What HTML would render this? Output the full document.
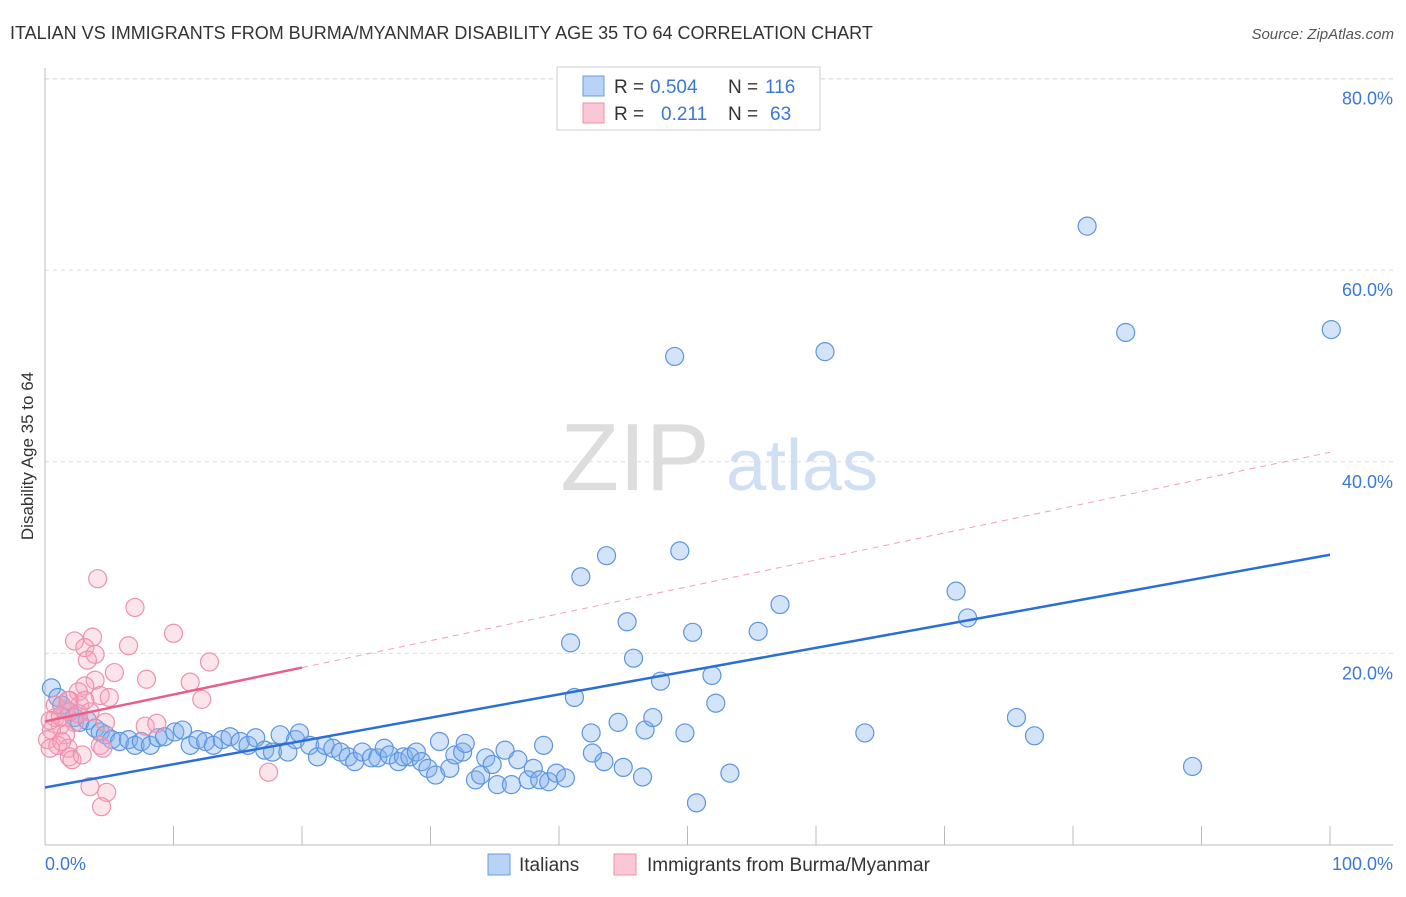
<!DOCTYPE html>
<html><head><meta charset="utf-8"><style>
body{margin:0;background:#fff;font-family:"Liberation Sans",sans-serif;}
svg text{font-family:"Liberation Sans",sans-serif;}
</style></head><body>
<svg id="chart" width="1406" height="892" viewBox="0 0 1406 892" xmlns="http://www.w3.org/2000/svg">
<text x="10" y="39" font-size="18" fill="#333">ITALIAN VS IMMIGRANTS FROM BURMA/MYANMAR DISABILITY AGE 35 TO 64 CORRELATION CHART</text>
<text x="1394" y="39" font-size="15" fill="#555" text-anchor="end" font-style="italic">Source: ZipAtlas.com</text>
<text transform="translate(33,456) rotate(-90)" font-size="17" fill="#333" text-anchor="middle">Disability Age 35 to 64</text>
<g>
<text x="635" y="490" font-size="96" fill="#ddd" text-anchor="middle" font-family="Liberation Serif,serif">ZIP</text>
<text x="802" y="490" font-size="72" fill="#cfe0f4" text-anchor="middle">atlas</text>
</g>
<g id="grid"></g>
<g id="axes"></g>
<g id="marks"></g>
<g id="lines"></g>
<g>
<rect x="557" y="67" width="263" height="63" fill="#fff" stroke="#ccc"/>
<rect x="583" y="76" width="21" height="20" fill="#b8d3f5" stroke="#6a9be0"/>
<rect x="583" y="103" width="21" height="20" fill="#fac7d6" stroke="#ee8fab"/>
<text x="614" y="93" font-size="19" fill="#333">R =</text>
<text x="650" y="93" font-size="19" fill="#3b78d8">0.504</text>
<text x="728" y="93" font-size="19" fill="#333">N =</text>
<text x="765" y="93" font-size="19" fill="#3b78d8">116</text>
<text x="614" y="120" font-size="19" fill="#333">R =</text>
<text x="661" y="120" font-size="19" fill="#3b78d8">0.211</text>
<text x="728" y="120" font-size="19" fill="#333">N =</text>
<text x="770" y="120" font-size="19" fill="#3b78d8">63</text>
</g>
<g>
<rect x="488" y="854" width="22" height="21" fill="#b8d3f5" stroke="#6a9be0"/>
<text x="519" y="871" font-size="19" fill="#333">Italians</text>
<rect x="614" y="854" width="22" height="21" fill="#fac7d6" stroke="#ee8fab"/>
<text x="647" y="871" font-size="19" fill="#333">Immigrants from Burma/Myanmar</text>
</g>
</svg>
<script>
const blueX=[0.5,1.0,1.3,1.9,2.3,2.7,3.3,3.9,4.3,4.7,5.2,5.8,6.5,7.0,7.5,8.2,8.8,9.3,10.1,10.7,11.3,11.9,12.5,13.1,13.8,14.4,15.2,15.8,16.4,17.1,17.7,18.3,18.9,19.5,19.8,20.6,21.2,21.8,22.4,23.0,23.6,24.1,24.7,25.4,25.9,26.4,26.8,27.5,27.9,28.4,28.9,29.3,29.8,30.4,30.7,31.5,31.9,32.5,32.7,33.5,33.9,34.3,34.8,35.2,35.8,36.3,36.8,37.6,38.0,38.5,38.8,39.2,39.8,40.5,40.9,41.2,41.7,42.5,42.6,43.5,43.7,44.6,45.0,45.3,45.8,46.5,46.7,47.3,47.9,49.0,49.4,49.8,50.4,50.7,51.9,52.2,53.3,55.5,57.2,60.7,63.8,70.9,71.8,75.6,77.0,81.1,84.1,89.3,100.1];
const blueY=[16.4,15.4,14.6,13.9,13.3,12.8,13.0,12.2,11.8,11.5,11.0,10.8,11.0,10.4,10.8,10.4,11.2,11.3,11.8,12.0,10.4,11.0,10.8,10.4,11.0,11.3,10.8,10.4,11.2,9.9,9.7,11.5,9.7,11.0,11.7,10.4,9.2,10.4,10.1,9.7,9.2,8.7,9.7,9.1,9.1,10.1,9.4,8.7,9.2,9.2,9.7,8.7,8.0,7.3,10.8,8.0,9.4,9.7,10.6,6.8,7.3,9.1,8.4,6.3,9.9,6.3,8.9,6.8,8.0,6.8,10.4,6.6,7.5,7.0,21.1,15.4,28.0,11.7,9.6,8.7,30.2,12.8,8.1,23.3,19.5,7.1,12.0,13.3,17.1,51.0,30.7,11.7,22.2,4.4,17.7,14.8,7.5,22.3,25.1,51.5,11.7,26.5,23.7,13.3,11.4,64.6,53.5,8.2,53.8];
const pinkX=[4.1,7.0,2.3,3.7,6.5,10.0,12.8,3.1,3.9,3.3,5.4,7.9,11.3,12.2,3.9,3.1,2.6,4.3,5.0,1.9,2.7,1.6,3.5,0.8,2.3,1.2,4.7,7.8,8.7,0.5,1.6,0.2,1.0,0.4,1.8,4.3,4.5,1.9,2.1,2.9,17.4,3.5,4.8,4.4,1.2,2.6,0.8,3.1,0.4,1.3,1.8];
const pinkY=[27.8,24.8,21.3,21.7,20.8,22.1,19.1,20.6,19.9,19.3,18.0,17.3,17.0,15.2,17.2,16.6,16.0,15.6,15.4,15.1,14.6,14.1,13.9,13.3,12.8,12.5,12.8,12.4,12.7,12.0,11.5,11.0,10.4,10.1,10.1,10.4,10.1,9.2,8.9,9.4,7.6,6.1,5.5,4.0,13.4,13.7,14.6,15.1,13.0,10.8,15.1];
const blueTrend=[6.0,30.3];
const pinkTrend=[12.9,41.0];
const pinkSolidEnd=20;
const yTicks=[20,40,60,80];
const yTickLabels=["20.0%","40.0%","60.0%","80.0%"];
const xTicks=[0,10,20,30,40,50,60,70,80,90,100];

const NS="http://www.w3.org/2000/svg";
const X0=45,X1=1330,Y0=845,YPER=9.58;
const sx=v=>X0+(X1-X0)*v/100;
const sy=v=>Y0-v*YPER;
function mk(tag,attrs,parent){const e=document.createElementNS(NS,tag);for(const k in attrs)e.setAttribute(k,attrs[k]);parent.appendChild(e);return e;}
const gridG=document.getElementById('grid'),axesG=document.getElementById('axes'),marksG=document.getElementById('marks'),linesG=document.getElementById('lines');
yTicks.forEach((t,i)=>{
  const g=mk('line',{x1:X0,x2:1393,y1:sy(t),y2:sy(t),stroke:'#ddd','stroke-dasharray':'4,4'},gridG);
  
  
  const tx=mk('text',{x:1393,y:sy(t)+26,'font-size':18,fill:'#3b78d8','text-anchor':'end'},axesG);
  tx.textContent=yTickLabels[i];
  
  
});
const topLine=mk('line',{x1:X0,x2:1393,y1:79,y2:79,stroke:'#ddd','stroke-dasharray':'4,4'},gridG);


const ya=mk('line',{x1:X0,x2:X0,y1:68,y2:Y0,stroke:'#bbb'},axesG);


const xa=mk('line',{x1:X0,x2:1393,y1:Y0,y2:Y0,stroke:'#bbb'},axesG);


xTicks.forEach(t=>{
  const l=mk('line',{x1:sx(t),x2:sx(t),y1:826,y2:Y0,stroke:'#bbb'},axesG);
  
  
});
const xl0=mk('text',{x:45,y:870,'font-size':18,fill:'#3b78d8'},axesG);xl0.textContent='0.0%';


const xl1=mk('text',{x:1393,y:870,'font-size':18,fill:'#3b78d8','text-anchor':'end'},axesG);xl1.textContent='100.0%';


blueX.forEach((x,i)=>{
  const c=mk('circle',{cx:sx(x),cy:sy(blueY[i]),r:9,fill:'rgba(130,175,235,0.35)',stroke:'#5d95e0','stroke-width':1.2},marksG);
  
  
});
pinkX.forEach((x,i)=>{
  const c=mk('circle',{cx:sx(x),cy:sy(pinkY[i]),r:9,fill:'rgba(245,165,190,0.3)',stroke:'#ee90ad','stroke-width':1.2},marksG);
  
  
});
const pAt=x=>pinkTrend[0]+(pinkTrend[1]-pinkTrend[0])*x/100;
const bl=mk('line',{x1:sx(0),y1:sy(blueTrend[0]),x2:sx(100),y2:sy(blueTrend[1]),stroke:'#2a6fd6','stroke-width':2.5},linesG);


const pd=mk('line',{x1:sx(pinkSolidEnd),y1:sy(pAt(pinkSolidEnd)),x2:sx(100),y2:sy(pAt(100)),stroke:'#f0a0b8','stroke-width':1,'stroke-dasharray':'6,5'},linesG);


const ps=mk('line',{x1:sx(0),y1:sy(pAt(0)),x2:sx(pinkSolidEnd),y2:sy(pAt(pinkSolidEnd)),stroke:'#e8608a','stroke-width':2.5},linesG);


</script>
</body></html>
